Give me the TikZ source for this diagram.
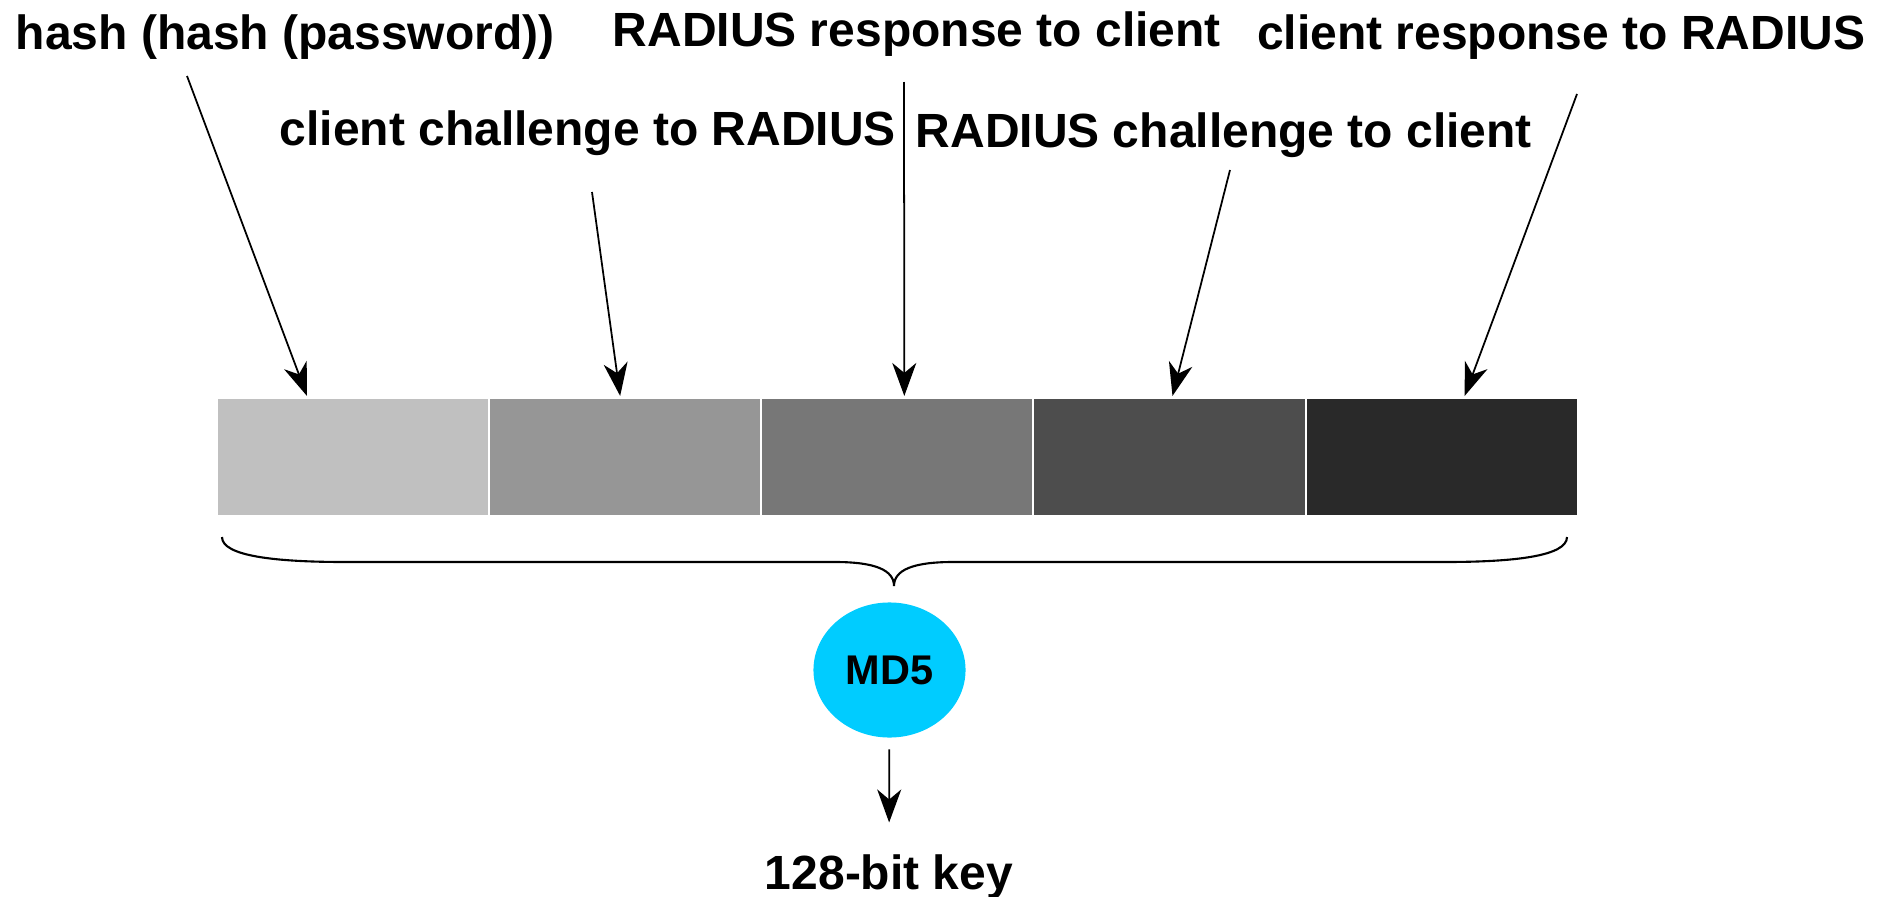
\documentclass[tikz,border=0pt]{standalone}
\usepackage{fontspec}
\setmainfont{Liberation Sans}
\usepackage{xcolor}
\usepackage{tikz}
\usetikzlibrary{positioning, calc, arrows.meta, shapes.geometric}

\definecolor{segA}{HTML}{C0C0C0}
\definecolor{segB}{HTML}{969696}
\definecolor{segC}{HTML}{777777}
\definecolor{segD}{HTML}{4D4D4D}
\definecolor{segE}{HTML}{292929}
\definecolor{mdcyan}{HTML}{00CCFF}

\begin{document}
\begin{tikzpicture}[
  x=0.01cm, y=-0.01cm,
  every node/.style={inner sep=0pt, font=\fontsize{13.65}{16}\selectfont\bfseries},
  segment/.style={rectangle, minimum width=2.7cm, minimum height=1.16cm, outer sep=0pt},
  feed/.style={-{Stealth[length=0.33cm, width=0.24cm, inset=0.1cm]}, line width=0.5pt},
  hashfn/.style={ellipse, fill=mdcyan, minimum width=1.52cm, minimum height=1.35cm,
    font=\fontsize{11.8}{14}\selectfont\bfseries}
]
\useasboundingbox (0,0) rectangle (1893,897);

% Input fields
\node[segment, fill=segA] (b1) at (353,457) {};
\node[segment, fill=segB, right=0.02cm of b1] (b2) {};
\node[segment, fill=segC, right=0.02cm of b2] (b3) {};
\node[segment, fill=segD, right=0.02cm of b3] (b4) {};
\node[segment, fill=segE, right=0.02cm of b4] (b5) {};

% Labels
\node[anchor=base west] (l1) at (15,49) {hash (hash (password))};
\node[anchor=base west] (l2) at (279,146) {client challenge to RADIUS};
\node[anchor=base west] (l3) at (612,47) {RADIUS response to client};
\node[anchor=base west] (l4) at (915,147) {RADIUS challenge to client};
\node[anchor=base east] (l5) at (1866,49) {client response to RADIUS};

\coordinate (s1) at (187,76);
\coordinate (s2) at (592,192);
\coordinate (s3) at (904,82);
\coordinate (s4) at (1230,170);
\coordinate (s5) at (1577,94);

\draw[feed] (s1) -- ($(b1.north)+(-46,-3)$);
\draw[feed] (s2) -- ($(b2.north)+(-5,-3)$);
\draw[feed] (s3) -- ($(b3.north)+(7,-3)$);
\draw[feed] (s4) -- ($(b4.north)+(3,-3)$);
\draw[feed] (s5) -- ($(b5.north)+(23,-3)$);

% Brace
\draw[line width=0.6pt] (222,537) .. controls (222,556) and (275,562) .. (345,562)
  -- (835,562) .. controls (875,562) and (894,570) .. (894,586)
  .. controls (894,570) and (913,562) .. (953,562)
  -- (1445,562) .. controls (1515,562) and (1567,556) .. (1567,537);

% Hash and output
\node[hashfn] (md5) at (889.5,670) {MD5};
\node[anchor=base] (key) at (889,889) {128-bit key};
\draw[feed, shorten <=0.11cm, shorten >=0.31cm] (md5) -- (key);

\end{tikzpicture}
\end{document}
